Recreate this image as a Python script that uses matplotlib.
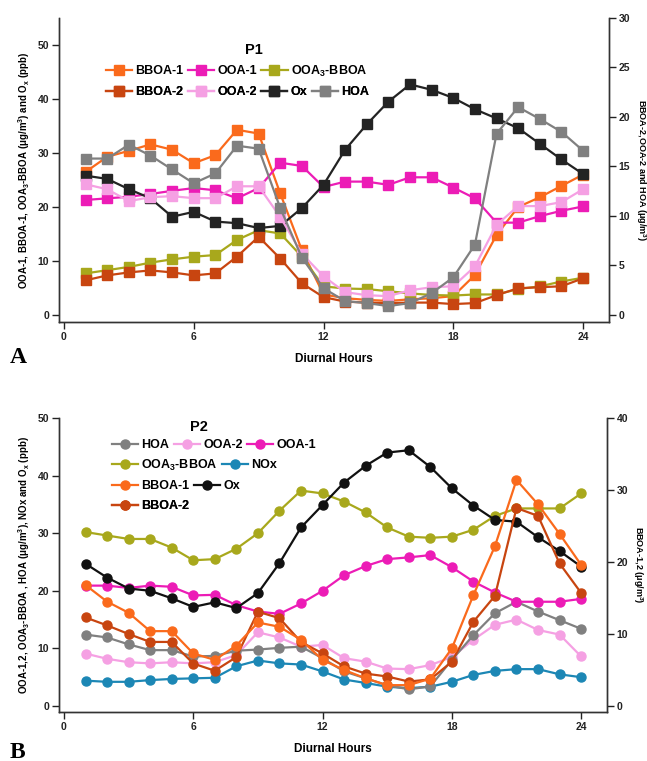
import matplotlib
matplotlib.use("Agg")
import matplotlib.pyplot as plt

hours = list(range(1, 25))

# ---- P1 (top panel) ----
# left axis: ug/m3 and ppb
p1_bboa1 = [26.5, 29.3, 30.4, 31.6, 30.6, 28.1, 29.6, 34.3, 33.6, 22.5, 12.0, 3.8,
            3.1, 2.8, 2.6, 2.9, 3.1, 3.5, 7.4, 14.8, 20.0, 21.8, 23.9, 26.0]
p1_ooa1 = [21.3, 21.6, 21.9, 22.4, 23.0, 23.5, 23.1, 21.6, 23.5, 28.2, 27.6, 23.7,
           24.7, 24.7, 24.1, 25.5, 25.5, 23.6, 21.6, 17.1, 17.1, 18.3, 19.3, 20.1]
p1_ooa3_bboa = [7.7, 8.3, 8.9, 9.7, 10.3, 10.8, 11.1, 13.9, 15.7, 15.1, 10.8, 5.3,
                4.9, 4.8, 4.4, 4.0, 3.7, 3.6, 3.8, 3.8, 4.8, 5.3, 6.2, 6.9]
p1_ox = [25.8, 25.2, 23.3, 21.6, 18.2, 19.1, 17.3, 17.0, 16.1, 16.5, 19.8, 24.1,
         30.6, 35.3, 39.5, 42.7, 41.7, 40.2, 38.1, 36.4, 34.6, 31.7, 28.8, 26.1]
# right axis
p1_hoa = [15.8, 15.8, 17.2, 16.1, 14.7, 13.3, 14.3, 17.1, 16.8, 10.8, 5.8, 2.7,
          1.4, 1.2, 0.9, 1.2, 2.2, 3.8, 7.1, 18.3, 21.0, 19.8, 18.5, 16.6]
p1_ooa2 = [13.2, 12.7, 11.5, 11.9, 12.0, 11.8, 11.8, 13.0, 13.0, 9.9, 6.2, 3.9,
           2.3, 2.0, 1.9, 2.5, 2.8, 2.9, 4.9, 9.1, 11.0, 11.0, 11.4, 12.7]
p1_bboa2 = [3.5, 4.0, 4.3, 4.5, 4.3, 4.0, 4.2, 5.9, 7.9, 5.7, 3.2, 1.8,
            1.35, 1.25, 1.2, 1.25, 1.25, 1.1, 1.2, 2.0, 2.7, 2.8, 2.9, 3.7]

# ---- P2 (bottom panel) ----
# left axis
p2_hoa = [12.4, 11.9, 10.7, 9.7, 9.7, 8.6, 8.7, 9.6, 9.8, 10.1, 10.3, 8.3,
          6.0, 4.8, 3.6, 2.9, 3.4, 8.0, 12.3, 16.1, 18.1, 16.4, 14.9, 13.4]
p2_ooa2 = [9.1, 8.2, 7.6, 7.4, 7.6, 7.4, 7.6, 8.85, 12.8, 11.9, 10.3, 10.6,
           8.3, 7.7, 6.5, 6.4, 7.1, 8.5, 11.5, 14.1, 15.0, 13.2, 12.4, 8.6]
p2_ooa1 = [20.9, 20.9, 20.5, 20.9, 20.7, 19.2, 19.3, 17.5, 16.4, 16.0, 17.8, 20.0,
           22.7, 24.3, 25.5, 25.8, 26.2, 24.1, 21.6, 19.7, 18.1, 18.1, 18.1, 18.6]
p2_ooa3_bboa = [30.2, 29.6, 29.0, 29.0, 27.5, 25.3, 25.5, 27.3, 30.0, 33.9, 37.4, 36.9,
                35.5, 33.6, 31.0, 29.4, 29.2, 29.4, 30.6, 33.0, 34.3, 34.3, 34.3, 36.9]
p2_nox = [4.4, 4.2, 4.2, 4.5, 4.7, 4.8, 4.9, 6.9, 7.9, 7.4, 7.2, 6.0,
          4.6, 4.0, 3.35, 3.1, 3.35, 4.2, 5.4, 6.1, 6.4, 6.4, 5.5, 5.0]
p2_ox = [24.7, 22.3, 20.4, 20.0, 18.7, 17.2, 18.0, 17.0, 19.6, 24.8, 31.0, 34.9,
         38.8, 41.7, 44.0, 44.4, 41.5, 37.8, 34.8, 32.3, 32.0, 29.3, 26.9, 24.2]
# right axis
p2_bboa1 = [16.8, 14.5, 12.95, 10.4, 10.4, 7.3, 6.4, 8.4, 11.6, 11.0, 9.2, 6.4,
            5.0, 3.85, 2.9, 2.9, 3.8, 8.0, 15.4, 22.2, 31.4, 28.0, 23.9, 19.6]
p2_bboa2 = [12.3, 11.2, 10.0, 8.9, 8.9, 5.9, 4.9, 6.8, 13.1, 12.2, 8.9, 7.3,
            5.5, 4.5, 4.1, 3.4, 3.7, 6.15, 11.7, 15.3, 27.5, 26.4, 19.8, 15.7]

x_ticks = [0, 6, 12, 18, 24]

C_BBOA1 = "#fa6a1c"
C_BBOA2 = "#c84510"
C_OOA1 = "#ec1cb6"
C_OOA2 = "#f5a0e3"
C_OOA3 = "#a8a81c"
C_OX = "#232323"
C_HOA = "#808080"
C_NOX = "#1c87b5"

plt.rcParams["font.family"] = ["Liberation Sans", "DejaVu Sans"]
plt.rcParams["font.weight"] = "bold"
plt.rcParams["axes.labelweight"] = "bold"
plt.rcParams["mathtext.fontset"] = "custom"
plt.rcParams["mathtext.rm"] = "Liberation Sans:bold"
plt.rcParams["mathtext.it"] = "Liberation Sans:bold"
plt.rcParams["mathtext.bf"] = "Liberation Sans:bold"
plt.rcParams["mathtext.default"] = "rm"

W, H = 647, 761
fig = plt.figure(figsize=(W / 100, H / 100), dpi=100)


def px_axes(left, top, right, bottom):
    return fig.add_axes([left / W, 1 - bottom / H, (right - left) / W, (bottom - top) / H])


def style_axes(ax, ax2):
    ax.spines["top"].set_visible(False)
    ax2.spines["top"].set_visible(False)
    for a in (ax, ax2):
        for s in a.spines.values():
            s.set_linewidth(1.0)
            s.set_color("#333333")
        a.tick_params(direction="out", length=5, width=1, labelsize=7.5, pad=2, colors="#222222")
    ax.set_xlim(-0.23, 25.2)
    ax.set_xticks(x_ticks)
    ax.set_xlabel("Diurnal Hours", fontsize=8.5, labelpad=8)


def row_legend(ax, handles, labels, x_px, y_px):
    leg = ax.legend(handles, labels, loc="center left",
                    bbox_to_anchor=(x_px / W, 1 - y_px / H), bbox_transform=fig.transFigure,
                    ncol=len(handles), frameon=False, fontsize=9, handlelength=2.1,
                    handletextpad=0.25, columnspacing=0.35, borderpad=0, borderaxespad=0)
    ax.add_artist(leg)


def plot_p1():
    ax = px_axes(59, 18, 609, 322)
    ax2 = ax.twinx()
    kw = dict(marker="s", markersize=6.5, linewidth=1.6)

    l_bboa1, = ax.plot(hours, p1_bboa1, color=C_BBOA1, **kw)
    l_ooa3, = ax.plot(hours, p1_ooa3_bboa, color=C_OOA3, **kw)
    l_ooa1, = ax.plot(hours, p1_ooa1, color=C_OOA1, **kw)
    l_ox, = ax.plot(hours, p1_ox, color=C_OX, **kw)
    l_bboa2, = ax2.plot(hours, p1_bboa2, color=C_BBOA2, **kw)
    l_ooa2, = ax2.plot(hours, p1_ooa2, color=C_OOA2, **kw)
    l_hoa, = ax2.plot(hours, p1_hoa, color=C_HOA, **kw)

    style_axes(ax, ax2)
    ax.set_ylim(-1.3, 55)
    ax.set_yticks([0, 10, 20, 30, 40, 50])
    ax2.set_ylim(-0.71, 30)
    ax2.set_yticks([0, 5, 10, 15, 20, 25, 30])
    ax.set_ylabel("OOA-1, BBOA-1, OOA$_3$-BBOA (\u03bcg/m$^3$) and O$_x$ (ppb)",
                  fontsize=7, labelpad=4)
    ax2.set_ylabel("BBOA-2,OOA-2 and HOA (\u03bcg/m$^3$)", fontsize=6.5,
                   rotation=270, va="bottom", labelpad=3)

    fig.text(254 / W, 1 - 50 / H, "P1", fontsize=10.5, ha="center", va="center")
    row_legend(ax2, [l_bboa1, l_ooa1, l_ooa3], ["BBOA-1", "OOA-1", "OOA$_3$-BBOA"], 106, 71)
    row_legend(ax2, [l_bboa2, l_ooa2, l_ox, l_hoa], ["BBOA-2", "OOA-2", "Ox", "HOA"], 106, 92)


def plot_p2():
    ax = px_axes(59, 418, 607, 712)
    ax2 = ax.twinx()
    kw = dict(marker="o", markersize=6.5, linewidth=1.6)

    l_ooa3, = ax.plot(hours, p2_ooa3_bboa, color=C_OOA3, **kw)
    l_nox, = ax.plot(hours, p2_nox, color=C_NOX, **kw)
    l_ooa2, = ax.plot(hours, p2_ooa2, color=C_OOA2, **kw)
    l_hoa, = ax.plot(hours, p2_hoa, color=C_HOA, **kw)
    l_ooa1, = ax.plot(hours, p2_ooa1, color=C_OOA1, **kw)
    l_ox, = ax.plot(hours, p2_ox, color="#111111", **kw)
    l_bboa2, = ax2.plot(hours, p2_bboa2, color=C_BBOA2, **kw)
    l_bboa1, = ax2.plot(hours, p2_bboa1, color=C_BBOA1, **kw)

    style_axes(ax, ax2)
    ax.set_ylim(-1.04, 50)
    ax.set_yticks([0, 10, 20, 30, 40, 50])
    ax2.set_ylim(-0.83, 40)
    ax2.set_yticks([0, 10, 20, 30, 40])
    ax.set_ylabel("OOA-1,2, OOA$_3$-BBOA , HOA (\u03bcg/m$^3$), NOx and O$_x$ (ppb)",
                  fontsize=7, labelpad=4)
    ax2.set_ylabel("BBOA-1,2 (\u03bcg/m$^3$)", fontsize=6.5, rotation=270,
                   va="bottom", labelpad=2)

    fig.text(199 / W, 1 - 427 / H, "P2", fontsize=10.5, ha="center", va="center")
    row_legend(ax2, [l_hoa, l_ooa2, l_ooa1], ["HOA", "OOA-2", "OOA-1"], 112, 445)
    row_legend(ax2, [l_ooa3, l_nox], ["OOA$_3$-BBOA", "NOx"], 112, 465)
    row_legend(ax2, [l_bboa1, l_ox], ["BBOA-1", "Ox"], 112, 486)
    row_legend(ax2, [l_bboa2], ["BBOA-2"], 112, 506)


plot_p1()
plot_p2()

fig.text(10 / W, 1 - 357 / H, "A", fontsize=17, fontweight="bold", va="center",
         family=["Liberation Serif", "DejaVu Serif"])
fig.text(10 / W, 1 - 752 / H, "B", fontsize=17, fontweight="bold", va="center",
         family=["Liberation Serif", "DejaVu Serif"])

fig.savefig("out.png", dpi=100)
